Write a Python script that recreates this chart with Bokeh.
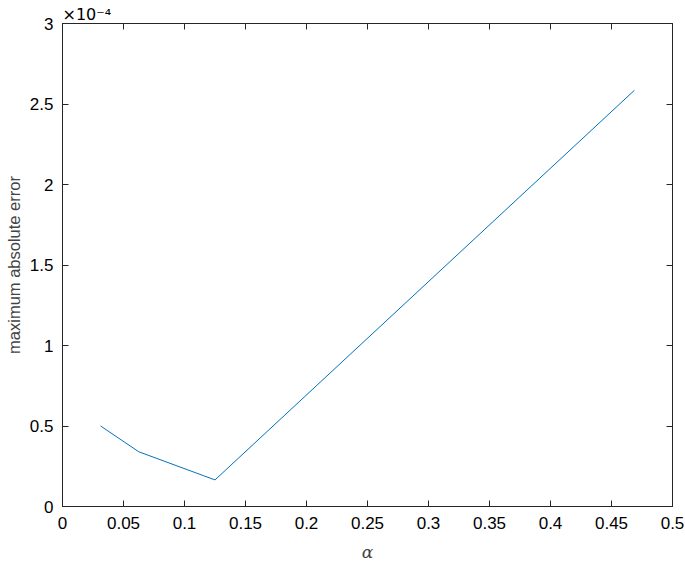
from bokeh.plotting import figure
from bokeh.models import LinearAxis, FixedTicker, CustomJSTickFormatter, Range1d
from bokeh.embed import file_html
from bokeh.resources import INLINE

alpha = [0.03125, 0.0625, 0.125, 0.46875]
max_abs_error = [5.0e-5, 3.4e-5, 1.65e-5, 2.585e-4]
x_ticks = [0, 0.05, 0.1, 0.15, 0.2, 0.25, 0.3, 0.35, 0.4, 0.45, 0.5]
y_ticks = [0, 0.5e-4, 1e-4, 1.5e-4, 2e-4, 2.5e-4, 3e-4]
exponent_text = "×10⁻⁴"

AX = "#262626"
FONT = "Liberation Sans"

p = figure(frame_width=610, frame_height=483, output_backend="svg", toolbar_location=None,
           x_range=Range1d(0, 0.5), y_range=Range1d(0, 3e-4),
           min_border_left=62, min_border_right=12, min_border_top=23, min_border_bottom=52,
           title=exponent_text)
p.grid.visible = False
p.outline_line_color = AX
p.outline_line_width = 1
p.background_fill_color = "white"
p.border_fill_color = "white"

p.title.align = "left"
p.title.offset = 0
p.title.text_font = "DejaVu Sans"
p.title.text_font_style = "normal"
p.title.text_font_size = "16px"
p.title.text_color = "black"
p.title.standoff = 0

p.line(alpha, max_abs_error, line_color="#0072BD", line_width=1)

xfmt = CustomJSTickFormatter(code="return String(Math.round(tick*100)/100);")
yfmt = CustomJSTickFormatter(code="return String(Math.round(tick*1e5)/10);")
blank = CustomJSTickFormatter(code="return '';")

def style(ax, ticks, fmt, show):
    ax.ticker = FixedTicker(ticks=ticks)
    ax.formatter = fmt
    ax.minor_tick_line_color = None
    ax.major_tick_in = 6
    ax.major_tick_out = 0
    ax.major_tick_line_color = AX
    ax.axis_line_color = AX
    ax.major_label_text_font = FONT
    ax.major_label_text_font_size = "17px" if show else "0px"
    ax.major_label_text_color = "black"
    ax.major_label_standoff = 8

xa = p.xaxis[0]
style(xa, x_ticks, xfmt, True)
xa.axis_label = "α"
xa.axis_label_text_font = "DejaVu Serif"
xa.axis_label_text_font_style = "italic"
xa.axis_label_text_font_size = "17px"
xa.axis_label_standoff = 10
xa.major_label_standoff = 10

ya = p.yaxis[0]
style(ya, y_ticks, yfmt, True)
ya.axis_label = "maximum absolute error"
ya.axis_label_text_font = FONT
ya.axis_label_text_font_style = "normal"
ya.axis_label_text_font_size = "16.5px"
ya.axis_label_standoff = 4
ya.major_label_standoff = 9

top = LinearAxis()
style(top, x_ticks, blank, False)
p.add_layout(top, "above")
right = LinearAxis()
style(right, y_ticks, blank, False)
p.add_layout(right, "right")

open("out.html", "w").write(file_html(p, INLINE))
